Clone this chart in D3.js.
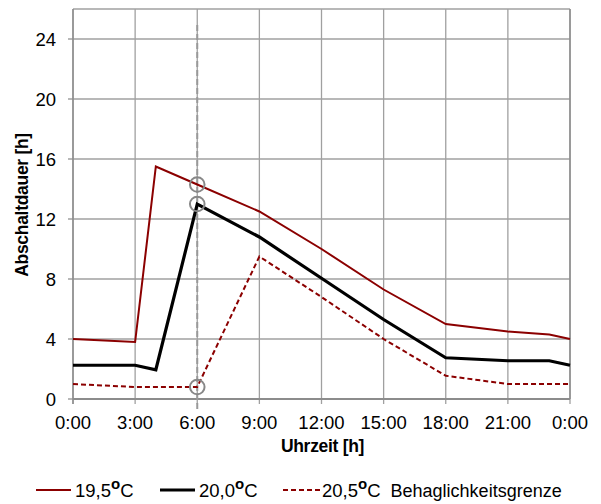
<!DOCTYPE html>
<html><head><meta charset="utf-8">
<script src="https://cdn.jsdelivr.net/npm/d3@7"></script>
<style>body{margin:0;background:#fff}svg{display:block}text{font-family:"Liberation Sans",Arial,sans-serif;fill:#000}</style>
</head><body><svg id="c" width="601" height="504"></svg>
<script>
const xTicks = [0,3,6,9,12,15,18,21,24];
const xTickLabels = ["0:00","3:00","6:00","9:00","12:00","15:00","18:00","21:00","0:00"];
const yTicks = [0,4,8,12,16,20,24];
const hours19 = [0,3,4,6,9,12,15,18,21,23,24];
const vals19 = [4.0,3.8,15.5,14.3,12.5,10.0,7.3,5.0,4.5,4.3,4.0];
const hours20 = [0,3,4,6,9,12,15,18,21,23,24];
const vals20 = [2.25,2.25,1.95,13.0,10.8,8.05,5.3,2.75,2.55,2.55,2.25];
const hours205 = [0,3,6,9,12,15,18,21,24];
const vals205 = [1.0,0.8,0.8,9.5,6.8,4.0,1.55,1.0,1.0];
const markerHour = 6;
const markerVals = [14.3,13.0,0.8];
const seriesNames = ["19,5","20,0","20,5"];

const svg = d3.select("#c");
const L=73,R=570,T=9,B=399;
const x = d3.scaleLinear().domain([0,24]).range([L,R]);
const y = d3.scaleLinear().domain([0,26]).range([B,T]);
const grid="#a0a0a0";

// grid
const g = svg.append("g");
g.selectAll(".vg").data(xTicks).enter().append("line")
 .attr("x1",d=>x(d)).attr("x2",d=>x(d)).attr("y1",T).attr("y2",B+5)
 .attr("stroke",grid).attr("stroke-width",1.3);
g.selectAll(".hg").data(yTicks).enter().append("line")
 .attr("x1",L-5).attr("x2",R).attr("y1",d=>y(d)).attr("y2",d=>y(d))
 .attr("stroke",grid).attr("stroke-width",1.3);
g.append("line").attr("x1",L).attr("x2",R).attr("y1",T).attr("y2",T).attr("stroke",grid).attr("stroke-width",1.3);
g.append("line").attr("x1",L).attr("x2",R).attr("y1",B).attr("y2",B).attr("stroke","#8c8c8c").attr("stroke-width",2);
g.append("line").attr("x1",R).attr("x2",R).attr("y1",T).attr("y2",B).attr("stroke","#8c8c8c").attr("stroke-width",1.5);
g.append("line").attr("x1",L).attr("x2",L).attr("y1",T).attr("y2",B+5).attr("stroke","#8c8c8c").attr("stroke-width",1.5);

// tick labels
svg.selectAll(".yl").data(yTicks).enter().append("text")
 .attr("x",56).attr("y",d=>y(d)+6.5).attr("text-anchor","end").attr("font-size",18.5).text(d=>d);
svg.selectAll(".xl").data(xTicks).enter().append("text")
 .attr("x",d=>x(d)).attr("y",429).attr("text-anchor","middle").attr("font-size",18.5).text((d,i)=>xTickLabels[i]);

// titles
svg.append("text").attr("x",322.5).attr("y",452).attr("text-anchor","middle")
 .attr("font-size",17.5).attr("font-weight","bold").attr("letter-spacing",-0.3).text("Uhrzeit [h]");
svg.append("text").attr("transform","translate(28,205) rotate(-90)").attr("text-anchor","middle")
 .attr("font-size",17.5).attr("font-weight","bold").attr("letter-spacing",-0.3).text("Abschaltdauer [h]");

// vertical dashed marker
svg.append("line").attr("x1",x(markerHour)).attr("x2",x(markerHour)).attr("y1",25).attr("y2",410)
 .attr("stroke","#999").attr("stroke-width",2).attr("stroke-dasharray","6,3");

const line = d3.line().x(d=>x(d[0])).y(d=>y(d[1]));
const red="#8b0000";
svg.append("path").datum(hours19.map((h,i)=>[h,vals19[i]])).attr("d",line)
 .attr("fill","none").attr("stroke",red).attr("stroke-width",2);
svg.append("path").datum(hours20.map((h,i)=>[h,vals20[i]])).attr("d",line)
 .attr("fill","none").attr("stroke","#000").attr("stroke-width",3.2);
svg.append("path").datum(hours205.map((h,i)=>[h,vals205[i]])).attr("d",line)
 .attr("fill","none").attr("stroke",red).attr("stroke-width",2).attr("stroke-dasharray","5,3");

svg.selectAll(".mk").data(markerVals).enter().append("circle")
 .attr("cx",x(markerHour)).attr("cy",d=>y(d)).attr("r",7.3)
 .attr("fill","none").attr("stroke","#888").attr("stroke-width",2);

// legend
const leg=[{x1:36,x2:71,tx:75,c:red,w:2,dash:null,name:seriesNames[0],extra:""},
 {x1:160,x2:195,tx:199,c:"#000",w:3.2,dash:null,name:seriesNames[1],extra:""},
 {x1:283,x2:320,tx:322,c:red,w:2,dash:"5,3",name:seriesNames[2],extra:"  Behaglichkeitsgrenze"}];
leg.forEach(l=>{
  svg.append("line").attr("x1",l.x1).attr("x2",l.x2).attr("y1",490).attr("y2",490)
   .attr("stroke",l.c).attr("stroke-width",l.w).attr("stroke-dasharray",l.dash);
  const t=svg.append("text").attr("x",l.tx).attr("y",497).attr("font-size",18.5).attr("xml:space","preserve");
  t.append("tspan").text(l.name);
  t.append("tspan").attr("dy",-8).attr("font-size",15).attr("font-weight","bold").text("o");
  t.append("tspan").attr("dy",8).text("C");
  if(l.extra) t.append("tspan").attr("font-size",18).text(l.extra);
});
</script></body></html>
